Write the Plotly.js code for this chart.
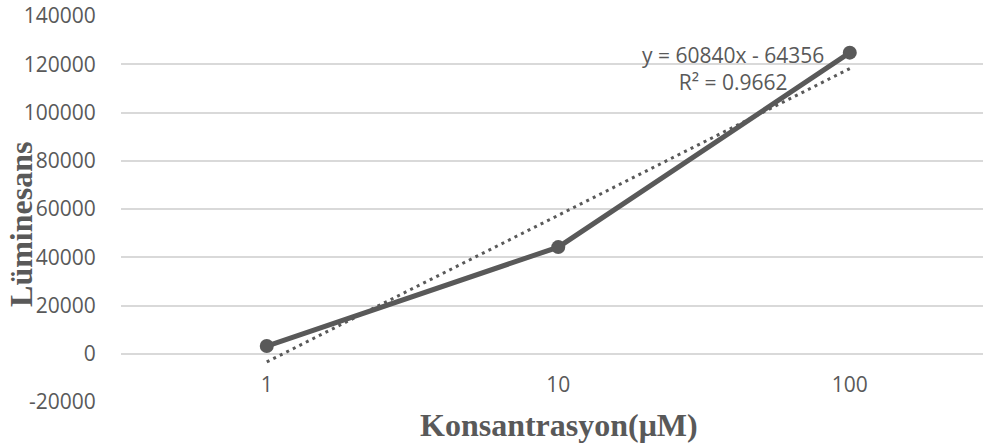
<!DOCTYPE html>
<html>
<head>
<meta charset="utf-8">
<script src="https://cdn.plot.ly/plotly-3.0.1.min.js"></script>
<style>html,body{margin:0;padding:0;background:#fff;}#chart{width:985px;height:447px;}</style>
</head>
<body>
<div id="chart"></div>
<script>
// Data
const categories = ['1', '10', '100'];
const luminescence = [3200, 44200, 124800];
const yTicks = [-20000, 0, 20000, 40000, 60000, 80000, 100000, 120000, 140000];
const yTickLabels = ['-20000', '0', '20000', '40000', '60000', '80000', '100000', '120000', '140000'];
const xTitle = 'Konsantrasyon(μM)';
const yTitle = 'Lüminesans';
const equationText = 'y = 60840x - 64356<br>R² = 0.9662';

// Linear trendline (Excel style, x = 1..n) computed from the data
const n = luminescence.length;
const xs = luminescence.map((_, i) => i + 1);
const mx = xs.reduce((a, b) => a + b, 0) / n;
const my = luminescence.reduce((a, b) => a + b, 0) / n;
let sxy = 0, sxx = 0;
for (let i = 0; i < n; i++) { sxy += (xs[i] - mx) * (luminescence[i] - my); sxx += (xs[i] - mx) ** 2; }
const slope = sxy / sxx;
const intercept = my - slope * mx;
const trendY = xs.map(x => slope * x + intercept);

const grey = '#595959';
const tickFont = {family: 'Open Sans, sans-serif', size: 21, color: grey};
const titleFont = {family: 'Liberation Serif, Times New Roman, serif', size: 32, color: grey, weight: 'bold'};

const traces = [
  {
    x: categories, y: trendY, type: 'scatter', mode: 'lines',
    line: {color: grey, width: 3, dash: '3px,4.3px'},
    hoverinfo: 'skip', showlegend: false
  },
  {
    x: categories, y: luminescence, type: 'scatter', mode: 'lines+markers',
    line: {color: grey, width: 5},
    marker: {color: grey, size: 14},
    showlegend: false
  }
];

const layout = {
  width: 985, height: 447,
  margin: {l: 121, r: 2, t: 16, b: 45, pad: 0},
  paper_bgcolor: '#ffffff', plot_bgcolor: '#ffffff',
  showlegend: false,
  xaxis: {
    type: 'category', range: [-0.5, 2.457],
    anchor: 'free', position: 0.125,
    showgrid: false, zeroline: false, showline: false,
    ticks: 'outside', ticklen: 12, tickcolor: 'rgba(0,0,0,0)',
    tickfont: tickFont, fixedrange: true
  },
  yaxis: {
    range: [-20000, 140000], tickmode: 'array', tickvals: yTicks, ticktext: yTickLabels,
    showgrid: true, gridcolor: '#d9d9d9', gridwidth: 2,
    zeroline: false, showline: false,
    ticks: 'outside', ticklen: 20, tickcolor: 'rgba(0,0,0,0)',
    tickfont: tickFont, fixedrange: true
  },
  annotations: [
    {
      text: yTitle, xref: 'paper', yref: 'paper',
      x: -0.1154, y: 0.46, xanchor: 'center', yanchor: 'middle',
      textangle: -90, showarrow: false, font: titleFont
    },
    {
      text: xTitle, xref: 'paper', yref: 'paper',
      x: (559 - 121) / 862, y: -0.06, xanchor: 'center', yanchor: 'middle',
      showarrow: false, font: titleFont
    },
    {
      text: equationText, xref: 'paper', yref: 'paper',
      x: (733 - 121) / 862, y: 0.865, xanchor: 'center', yanchor: 'middle',
      align: 'center', showarrow: false, font: tickFont
    }
  ]
};

Plotly.newPlot('chart', traces, layout, {displayModeBar: false, staticPlot: true});
</script>
</body>
</html>
